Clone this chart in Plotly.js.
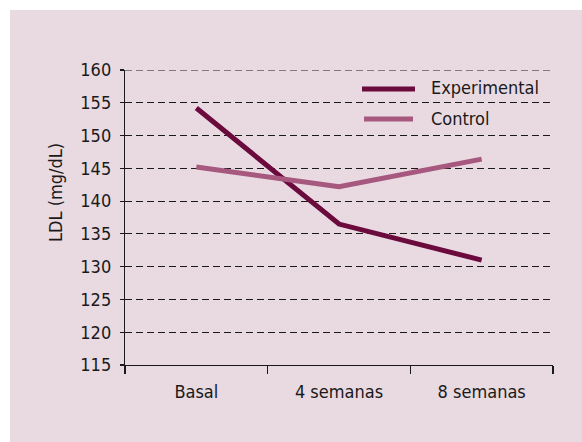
<!DOCTYPE html>
<html>
<head>
<meta charset="utf-8">
<script src="https://cdn.plot.ly/plotly-3.0.1.min.js"></script>
<style>
  html, body { margin: 0; padding: 0; background: #ffffff; }
  #chart { position: absolute; left: 10px; top: 10px; width: 572px; height: 432px; }
</style>
</head>
<body>
<div id="chart"></div>
<script>
const categories = ["Basal", "4 semanas", "8 semanas"];
const experimental = [154.2, 136.5, 131.0];
const control = [145.2, 142.2, 146.4];
const seriesNames = ["Experimental", "Control"];
const yTicks = [115, 120, 125, 130, 135, 140, 145, 150, 155, 160];
const yTitle = "LDL (mg/dL)";

const colExp = "#6b0a3d";
const colCtl = "#a6587f";
const pink = "#e9d9e1";
const ink = "#1a1a1a";
const fontFam = "'DejaVu Sans Condensed', 'DejaVu Sans', sans-serif";
const fs = 18;
const gridDash = "7px,4px";

const traces = [
  { x: categories, y: experimental, name: seriesNames[0], type: "scatter", mode: "lines",
    line: { color: colExp, width: 5 }, showlegend: false, hoverinfo: "skip" },
  { x: categories, y: control, name: seriesNames[1], type: "scatter", mode: "lines",
    line: { color: colCtl, width: 5 }, showlegend: false, hoverinfo: "skip" }
];

// positions in the 572x432 figure; plot area x 115..543, y 60..355
const W = 428, H = 295;
function px(x) { return (x - 115) / W; }
function py(y) { return 1 - (y - 60) / H; }

const layout = {
  width: 572, height: 432,
  margin: { l: 115, r: 29, t: 60, b: 77 },
  paper_bgcolor: pink, plot_bgcolor: pink,
  font: { family: fontFam, size: fs, color: ink },
  showlegend: false,
  xaxis: {
    type: "category", range: [-0.5, 2.5], tickson: "boundaries",
    ticks: "outside", ticklen: 8, tickwidth: 1.2, tickcolor: ink, ticklabelstandoff: 10,
    showline: true, linecolor: ink, linewidth: 1.2,
    showgrid: false, zeroline: false, fixedrange: true,
    tickfont: { family: fontFam, size: fs, color: ink }
  },
  yaxis: {
    range: [115, 160], tickmode: "array", tickvals: yTicks, ticktext: yTicks.map(String),
    ticks: "outside", ticklen: 4, tickwidth: 1.2, tickcolor: ink, ticklabelstandoff: 5,
    showline: true, linecolor: ink, linewidth: 1.2,
    showgrid: true, gridcolor: ink, gridwidth: 1, griddash: gridDash,
    zeroline: false, fixedrange: true,
    tickfont: { family: fontFam, size: fs, color: ink }
  },
  shapes: [
    { type: "line", xref: "paper", yref: "y", x0: 0, x1: 1, y0: yTicks[yTicks.length - 1], y1: yTicks[yTicks.length - 1],
      line: { color: ink, width: 1, dash: gridDash }, layer: "below" },
    { type: "line", xref: "paper", yref: "paper", x0: px(352), x1: px(405), y0: py(79), y1: py(79),
      line: { color: colExp, width: 5 } },
    { type: "line", xref: "paper", yref: "paper", x0: px(354), x1: px(403), y0: py(109), y1: py(109),
      line: { color: colCtl, width: 5 } }
  ],
  annotations: [
    { xref: "paper", yref: "paper", x: px(419), y: py(77), xanchor: "left", yanchor: "middle",
      text: seriesNames[0], showarrow: false, font: { family: fontFam, size: fs, color: ink } },
    { xref: "paper", yref: "paper", x: px(419), y: py(108), xanchor: "left", yanchor: "middle",
      text: seriesNames[1], showarrow: false, font: { family: fontFam, size: fs, color: ink } },
    { xref: "paper", yref: "paper", x: px(45), y: py(183), xanchor: "center", yanchor: "middle",
      textangle: -90, text: yTitle, showarrow: false, font: { family: fontFam, size: fs, color: ink } }
  ]
};

Plotly.newPlot("chart", traces, layout, { staticPlot: true, displayModeBar: false });
</script>
</body>
</html>
